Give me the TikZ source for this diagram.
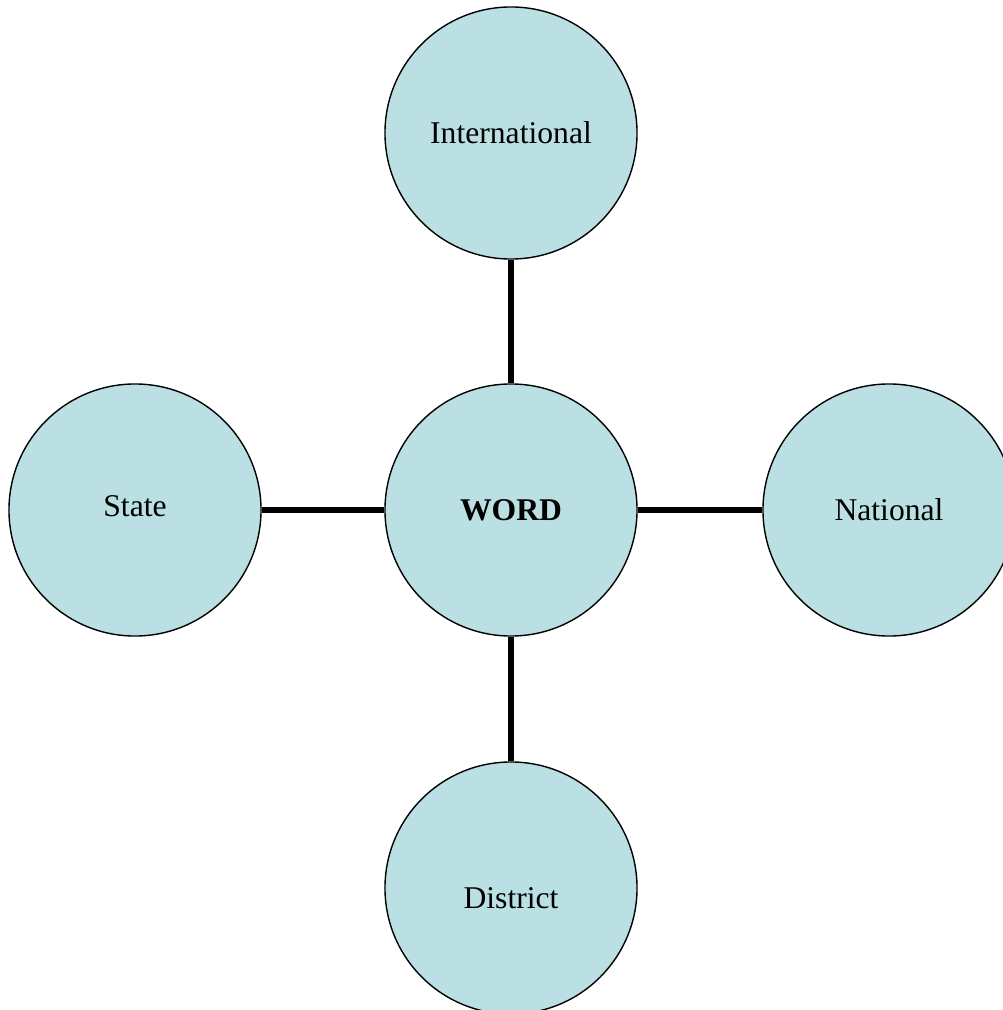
\documentclass[tikz,border=0pt]{standalone}
\usepackage{fontspec}
\setmainfont{Liberation Serif}
\definecolor{bubblefill}{RGB}{187,224,227}
\tikzset{bubble/.style={draw, circle, fill=bubblefill, line width=1pt, minimum size=6.3cm, inner sep=0pt, font=\fontsize{22.5}{27}\selectfont}}
\begin{document}
\begin{tikzpicture}[x=0.025cm,y=-0.025cm]
\useasboundingbox (0,0) rectangle (1003,1010);

    \node[bubble] (word) at (511,510) {\textbf{WORD}};
    \node[bubble] (intl) at (511,133) {International};
    \node[bubble] (state) at (135,510) {\raisebox{3pt}[\height][\depth]{State}};
    \node[bubble] (natl) at (889,510) {National};
    \node[bubble] (dist) at (511,888) {\raisebox{-7pt}[\height][\depth]{District}};

\draw[line width=3.6pt] (word) -- (intl);
\draw[line width=3.6pt] (word) -- (state);
\draw[line width=3.6pt] (word) -- (natl);
\draw[line width=3.6pt] (word) -- (dist);
\end{tikzpicture}
\end{document}
